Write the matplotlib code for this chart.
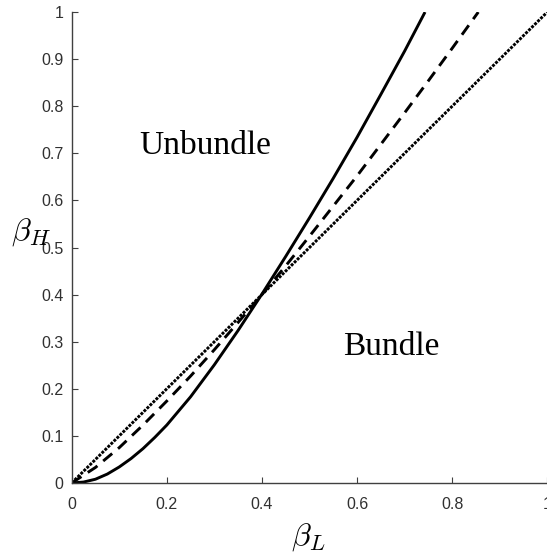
import matplotlib
matplotlib.use('Agg')
import matplotlib.pyplot as plt

# values
x_solid = [0, 0.025, 0.05, 0.075, 0.1, 0.125, 0.15, 0.175, 0.2, 0.25, 0.3,
           0.35, 0.4, 0.45, 0.5, 0.55, 0.6, 0.65, 0.7, 0.743]
y_solid = [0, 0.002, 0.008, 0.019, 0.034, 0.052, 0.073, 0.097, 0.123, 0.183, 0.251,
           0.324, 0.401, 0.481, 0.563, 0.647, 0.734, 0.825, 0.917, 1.0]

x_dash = [0, 0.05, 0.1, 0.15, 0.2, 0.25, 0.3, 0.35, 0.4, 0.45, 0.5, 0.55,
          0.6, 0.65, 0.7, 0.75, 0.8, 0.855]
y_dash = [0, 0.033, 0.075, 0.123, 0.174, 0.227, 0.283, 0.341, 0.400, 0.461, 0.524, 0.588,
          0.652, 0.719, 0.786, 0.854, 0.923, 1.0]

x_dot = [0, 0.25, 0.5, 0.75, 1.0]
y_dot = [0, 0.25, 0.5, 0.75, 1.0]

xticks = [0, 0.2, 0.4, 0.6, 0.8, 1]
xticklabels = ['0', '0.2', '0.4', '0.6', '0.8', '1']
yticks = [0, 0.1, 0.2, 0.3, 0.4, 0.5, 0.6, 0.7, 0.8, 0.9, 1]
yticklabels = ['0', '0.1', '0.2', '0.3', '0.4', '0.5', '0.6', '0.7', '0.8', '0.9', '1']

plt.rcParams['mathtext.fontset'] = 'cm'
plt.rcParams['font.family'] = ['Liberation Sans', 'DejaVu Sans']

axcol = '#404040'

fig = plt.figure(figsize=(5.47, 5.56), dpi=100)
ax = fig.add_axes([0.131, 0.1313, 0.8695, 0.847])

ax.plot(x_solid, y_solid, color='black', lw=2.1, solid_capstyle='butt')
ax.plot(x_dash, y_dash, color='black', lw=2.1, linestyle=(0, (4, 2.6)), dash_capstyle='butt')
ax.plot(x_dot, y_dot, color='black', lw=2.1, linestyle=(0, (1, 0.45)), dash_capstyle='butt')

ax.text(0.28, 0.716, 'Unbundle', family='Liberation Serif', fontsize=24,
        ha='center', va='center')
ax.text(0.673, 0.289, 'Bundle', family='Liberation Serif', fontsize=24,
        ha='center', va='center')

ax.set_xlim(0, 1)
ax.set_ylim(0, 1)
ax.set_xticks(xticks)
ax.set_xticklabels(xticklabels)
ax.set_yticks(yticks)
ax.set_yticklabels(yticklabels)

for s in ['top', 'right']:
    ax.spines[s].set_visible(False)
for s in ['left', 'bottom']:
    ax.spines[s].set_color(axcol)
    ax.spines[s].set_linewidth(1.0)

ax.tick_params(axis='both', direction='in', length=4, width=0.8, colors=axcol,
               labelsize=11.5, labelcolor='#303030')
ax.tick_params(axis='x', pad=10)
ax.tick_params(axis='y', pad=6)

fig.text(31 / 547, 1 - 232 / 556, r'$\beta_H$', fontsize=23, ha='center', va='center')
fig.text(308 / 547, 1 - 537 / 556, r'$\beta_L$', fontsize=23, ha='center', va='center')

fig.savefig('out.png', dpi=100)
